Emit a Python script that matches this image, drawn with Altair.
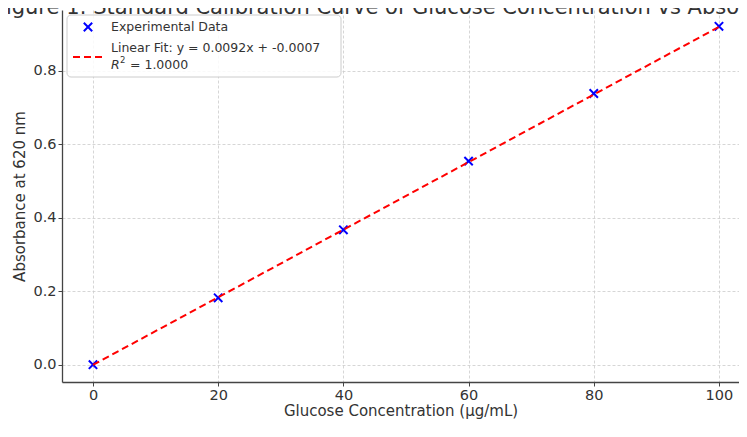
import altair as alt
import pandas as pd

# ---- data ----
concentration = [0, 20, 40, 60, 80, 100]
absorbance = [0.0, 0.182, 0.367, 0.554, 0.738, 0.921]
fit_slope = 0.0092
fit_intercept = -0.0007
fit_x = [0, 100]
x_ticks = [0, 20, 40, 60, 80, 100]
y_ticks = [0.0, 0.2, 0.4, 0.6, 0.8]
title_text = "Figure 1: Standard Calibration Curve of Glucose Concentration vs Absorbance"
x_title = "Glucose Concentration (µg/mL)"
y_title = "Absorbance at 620 nm"
legend_data_label = "Experimental Data"
legend_fit_label = "Linear Fit: y = 0.0092x + -0.0007"
legend_r2_value = "= 1.0000"

FONT = "DejaVu Sans"
W, H = 677, 372
x_dom = [-4.95, 103.2]
y_dom = [-0.0472, 0.9653]

pts = pd.DataFrame({"x": concentration, "y": absorbance})
fit = pd.DataFrame({"x": fit_x, "y": [fit_slope * v + fit_intercept for v in fit_x]})

xs = alt.Scale(domain=x_dom, nice=False, zero=False)
ys = alt.Scale(domain=y_dom, nice=False, zero=False)

x_axis = alt.Axis(values=x_ticks, title=x_title, format="d", grid=True,
                  tickSize=4, labelPadding=2, titlePadding=2)
y_axis = alt.Axis(values=y_ticks, title=y_title, format=".1f", grid=True,
                  tickSize=4, labelPadding=2, titlePadding=5)

points = alt.Chart(pts).mark_point(
    shape="M-1,-1L1,1M-1,1L1,-1", filled=False, strokeWidth=2, size=70,
    color="#0000ff", opacity=1
).encode(
    x=alt.X("x:Q", scale=xs, axis=x_axis),
    y=alt.Y("y:Q", scale=ys, axis=y_axis),
)

line = alt.Chart(fit).mark_line(
    color="#ff0000", strokeWidth=2, strokeDash=[7, 4]
).encode(x=alt.X("x:Q", scale=xs), y=alt.Y("y:Q", scale=ys))

# ---- legend & (cropped) title ----
leg = pd.DataFrame({"k": [0]})
box = alt.Chart(leg).mark_rect(
    fill="white", fillOpacity=0.85, stroke="#cccccc", strokeWidth=1, cornerRadius=4
).encode(x=alt.value(5), x2=alt.value(279), y=alt.value(5), y2=alt.value(67))

leg_marker = alt.Chart(leg).mark_point(
    shape="M-1,-1L1,1M-1,1L1,-1", filled=False, strokeWidth=2, size=70,
    color="#0000ff", opacity=1
).encode(x=alt.value(26), y=alt.value(17))

leg_line = alt.Chart(leg).mark_rule(
    color="#ff0000", strokeWidth=2, strokeDash=[7, 4]
).encode(x=alt.value(11), x2=alt.value(40), y=alt.value(47))

def leg_text(txt, x, y, size=12.5, **kw):
    return alt.Chart(leg).mark_text(
        text=txt, font=FONT, fontSize=size, color="#333333", align="left",
        baseline="middle", **kw
    ).encode(x=alt.value(x), y=alt.value(y))

title_mark = alt.Chart(leg).mark_text(
    text=title_text, font=FONT, fontSize=21, color="#333333", align="center",
    baseline="alphabetic"
).encode(x=alt.value(W / 2 + 3), y=alt.value(4))

legend = (box + leg_marker + leg_line
          + leg_text(legend_data_label, 49, 17)
          + leg_text(legend_fit_label, 49, 38)
          + leg_text("R", 49, 55, fontStyle="italic")
          + leg_text("2", 58, 50, size=8.5)
          + leg_text(legend_r2_value, 68, 55))

chart = alt.layer(points, line, title_mark, legend).properties(
    width=W, height=H,
    autosize=alt.AutoSizeParams(type="none"),
    padding={"left": 54, "top": 2, "right": 0, "bottom": 41},
    background="white",
).configure_view(stroke=None).configure_axis(
    labelFont=FONT, titleFont=FONT, labelFontSize=14.5, titleFontSize=15,
    labelColor="#333333", titleColor="#333333", titleFontWeight="normal",
    domainColor="#444444", domainWidth=1.3, tickColor="#444444", tickWidth=1,
    gridColor="#cccccc", gridDash=[3, 2], gridWidth=0.8,
)

chart.save("out.html", embed_options={"renderer": "svg", "actions": False})
